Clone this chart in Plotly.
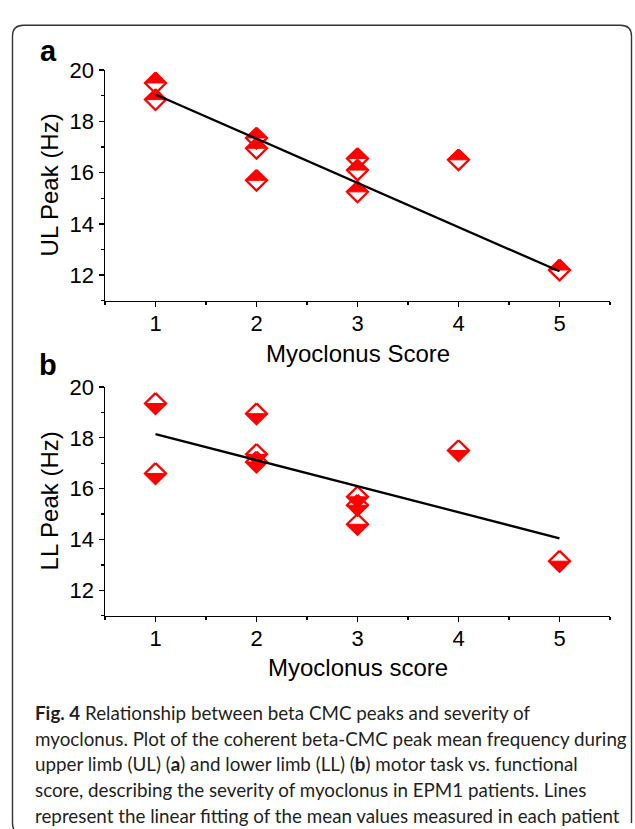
import plotly.graph_objects as go

# ---------------- data ----------------
score_ticks = [1, 2, 3, 4, 5]

ul_score = [1, 1, 2, 2, 2, 3, 3, 3, 4, 5]
ul_peak = [19.5, 18.85, 17.35, 16.95, 15.7, 16.55, 16.1, 15.25, 16.5, 12.2]
ul_fit_x = [1, 5]
ul_fit_y = [19.05, 12.15]

ll_score = [1, 1, 2, 2, 2, 3, 3, 3, 4, 5]
ll_peak = [19.35, 16.6, 18.95, 17.35, 17.05, 15.68, 15.35, 14.6, 17.5, 13.15]
ll_fit_x = [1, 5]
ll_fit_y = [18.15, 14.05]

caption_lines = [
    "<b>Fig. 4</b> Relationship between beta CMC peaks and severity of",
    "myoclonus. Plot of the coherent beta-CMC peak mean frequency during",
    "upper limb (UL) (<b>a</b>) and lower limb (LL) (<b>b</b>) motor task vs. functional",
    "score, describing the severity of myoclonus in EPM1 patients. Lines",
    "represent the linear fitting of the mean values measured in each patient",
]

# ---------------- layout constants (pixels) ----------------
W, H = 635, 829
X_L, X_R = 105, 610
A_TOP, A_BOT = 59, 293
B_TOP, B_BOT = 380.5, 612.7
XR = [0.5, 5.5]
YR = [11, 20]
RED = "#ff0000"
AX_FONT = "Liberation Sans, Arial, sans-serif"


def px_x(p):
    return p / W


def px_y(p):
    return 1 - p / H


def half_diamonds(xs, ys, top_px, bot_px, fill_top):
    """Build half-filled diamond polygons in data units via axis scale."""
    R = 10.5
    ppx = (X_R - X_L) / (XR[1] - XR[0])
    ppy = (bot_px - top_px) / (YR[1] - YR[0])
    dx, dy = R / ppx, R / ppy
    fx, fy, ox, oy = [], [], [], []
    for x, y in zip(xs, ys):
        s = dy if fill_top else -dy
        fx += [x - dx, x, x + dx, x - dx, None]
        fy += [y, y + s, y, y, None]
        ox += [x, x + dx, x, x - dx, x, None]
        oy += [y + dy, y, y - dy, y, y + dy, None]
    return fx, fy, ox, oy


fig = go.Figure()

for (xs, ys, fxl, fyl, xa, ya, top, bot, ftop) in [
    (ul_score, ul_peak, ul_fit_x, ul_fit_y, "x", "y", A_TOP, A_BOT, True),
    (ll_score, ll_peak, ll_fit_x, ll_fit_y, "x2", "y2", B_TOP, B_BOT, False),
]:
    fx, fy, ox, oy = half_diamonds(xs, ys, top, bot, ftop)
    fig.add_trace(go.Scatter(x=ox, y=oy, mode="lines", xaxis=xa, yaxis=ya,
                             line=dict(color=RED, width=2.3),
                             hoverinfo="skip", showlegend=False))
    fig.add_trace(go.Scatter(x=fx, y=fy, mode="lines", fill="toself",
                             fillcolor=RED, xaxis=xa, yaxis=ya,
                             line=dict(color=RED, width=1),
                             hoverinfo="skip", showlegend=False))
    fig.add_trace(go.Scatter(x=xs, y=ys, mode="markers", xaxis=xa, yaxis=ya,
                             marker=dict(size=1, opacity=0),
                             showlegend=False))
    fig.add_trace(go.Scatter(x=fxl, y=fyl, mode="lines", xaxis=xa, yaxis=ya,
                             line=dict(color="black", width=2.3),
                             hoverinfo="skip", showlegend=False))

xcommon = dict(range=XR, tickmode="array", tickvals=score_ticks,
               ticks="outside", ticklen=5, tickwidth=1.3, tickcolor="black",
               showline=True, linecolor="black", linewidth=1.5,
               showgrid=False, zeroline=False, fixedrange=True,
               tickfont=dict(family=AX_FONT, size=22, color="black"),
               minor=dict(dtick=0.5, tick0=0.5, ticks="outside", ticklen=3,
                          tickwidth=1.3, tickcolor="black", showgrid=False))
ycommon = dict(range=YR, dtick=2, tick0=0,
               ticks="outside", ticklen=5, tickwidth=1.3, tickcolor="black",
               showline=True, linecolor="black", linewidth=1.5,
               showgrid=False, zeroline=False, fixedrange=True,
               tickfont=dict(family=AX_FONT, size=22, color="black"),
               minor=dict(dtick=1, tick0=0, ticks="outside", ticklen=3,
                          tickwidth=1.3, tickcolor="black", showgrid=False))

fig.update_layout(
    width=W, height=H,
    margin=dict(l=0, r=0, t=0, b=0),
    paper_bgcolor="white", plot_bgcolor="white",
    xaxis=dict(domain=[px_x(X_L), px_x(X_R)], anchor="y", **xcommon),
    yaxis=dict(domain=[px_y(A_BOT), px_y(A_TOP)], anchor="x", **ycommon),
    xaxis2=dict(domain=[px_x(X_L), px_x(X_R)], anchor="y2", **xcommon),
    yaxis2=dict(domain=[px_y(B_BOT), px_y(B_TOP)], anchor="x2", **ycommon),
)
try:
    fig.update_xaxes(ticklabelstandoff=-3)
except Exception:
    pass

ann = []


def add_text(text, xp, yp, size, bold=False, angle=0, xanchor="center",
             family=AX_FONT, color="black"):
    ann.append(dict(text=("<b>%s</b>" % text) if bold else text,
                    x=px_x(xp), y=px_y(yp), xref="paper", yref="paper",
                    showarrow=False, xanchor=xanchor, yanchor="middle",
                    textangle=angle,
                    font=dict(family=family, size=size, color=color)))


# panel letters
add_text("a", 48, 40, 29, bold=True)
add_text("b", 48, 358, 29, bold=True)
# axis titles
add_text("Myoclonus Score", (X_L + X_R) / 2, 347, 24)
add_text("UL Peak (Hz)", 49, (A_TOP + A_BOT) / 2, 24, angle=-90)
add_text("Myoclonus score", (X_L + X_R) / 2, 665, 24)
add_text("LL Peak (Hz)", 49, (B_TOP + B_BOT) / 2, 24, angle=-90)

# caption
CAP_FONT = "Lato, Open Sans, sans-serif"
for i, line in enumerate(caption_lines):
    add_text(line, 33, 711 + i * 26, 18.8, xanchor="left", family=CAP_FONT,
             color="#231f20")

fig.update_layout(annotations=ann)

# outer rounded frame
L, T, Rr, B, r = 12.5, 13.5, 631.5, 834, 11
path = ("M {a},{b} L {a},{c} Q {a},{d} {e},{d} L {f},{d} Q {g},{d} {g},{c} "
        "L {g},{b}").format(a=px_x(L), b=px_y(B - r), c=px_y(T + r),
                             d=px_y(T), e=px_x(L + r), f=px_x(Rr - r),
                             g=px_x(Rr))
bottom = ("M {a},{b} Q {a},{c} {e},{c}").format(a=px_x(L), b=px_y(B - r),
                                              c=px_y(B), e=px_x(L + r))
fig.add_shape(type="path", path=path, xref="paper", yref="paper",
              line=dict(color="#333333", width=1.4))
fig.add_shape(type="path", path=bottom, xref="paper", yref="paper",
              line=dict(color="#333333", width=1.4))

pin = ("document.body.style.margin='0px';"
       "var d=document.getElementById('{plot_id}');"
       "d.style.position='fixed';d.style.left='0px';d.style.top='0px';")
fig.write_html("out.html", post_script=pin,
               config={"displayModeBar": False, "staticPlot": True})
